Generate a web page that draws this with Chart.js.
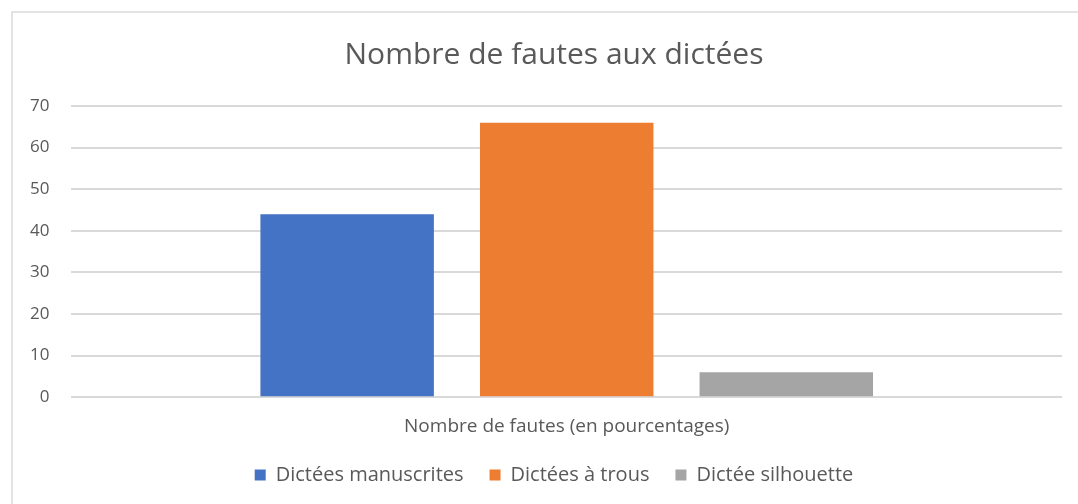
<!DOCTYPE html>
<html>
<head>
<meta charset="utf-8">
<script src="https://cdn.jsdelivr.net/npm/chart.js@4/dist/chart.umd.min.js"></script>
<style>
  html, body { margin: 0; padding: 0; background: #fff; }
  #wrap { position: absolute; left: 0; top: 0; width: 1078px; height: 504px; }
  #frame { position: absolute; left: 11px; top: 11px; width: 1080px; height: 500px;
           border-top: 2px solid #e3e3e3; border-left: 2px solid #e3e3e3; pointer-events: none; }
</style>
</head>
<body>
<div id="wrap"><canvas id="chart" width="1078" height="504"></canvas></div>
<div id="frame"></div>
<script>
// catégorie unique et séries
const categories = ['Nombre de fautes (en pourcentages)'];
const seriesNames = ['Dictées manuscrites', 'Dictées à trous', 'Dictée silhouette'];
const manuscrites = [44];
const aTrous = [66];
const silhouette = [6];
const yTicks = [0, 10, 20, 30, 40, 50, 60, 70];

const colors = ['#4472c4', '#ed7d31', '#a5a5a5'];
const textColor = '#595959';
const fontFamily = '"Open Sans", "Liberation Sans", sans-serif';

// légende un peu moins haute que le calcul par défaut,
// titre et légende centrés un peu à droite comme dans Excel
const blockTweaks = {
  id: 'blockTweaks',
  beforeInit(chart) {
    const fit = chart.legend.fit;
    chart.legend.fit = function () {
      fit.call(this);
      this.height -= 13;
    };
  },
  afterLayout(chart) {
    const shift = 19;
    [chart.titleBlock, chart.legend].forEach(b => {
      if (!b) return;
      b.left += shift;
      b.right += shift;
    });
  }
};

const ctx = document.getElementById('chart').getContext('2d');
new Chart(ctx, {
  type: 'bar',
  data: {
    labels: categories,
    datasets: [manuscrites, aTrous, silhouette].map((values, i) => ({
      label: seriesNames[i],
      data: values,
      backgroundColor: colors[i],
      borderWidth: 0,
      categoryPercentage: 0.665,
      barPercentage: 0.79
    }))
  },
  options: {
    responsive: false,
    animation: false,
    layout: { padding: { left: 8, right: 16, top: 20, bottom: 22 } },
    plugins: {
      title: {
        display: true,
        text: 'Nombre de fautes aux dictées',
        color: textColor,
        font: { family: fontFamily, size: 30, weight: 'normal' },
        padding: { top: 17, bottom: 33 }
      },
      legend: {
        position: 'bottom',
        labels: {
          color: textColor,
          font: { family: fontFamily, size: 20 },
          boxWidth: 11,
          boxHeight: 11,
          padding: 26
        }
      },
      tooltip: { enabled: false }
    },
    scales: {
      x: {
        grid: { display: false },
        border: { display: false },
        ticks: { color: textColor, font: { family: fontFamily, size: 19 }, padding: 10 },
        afterFit: (scale) => { scale.height -= 9; }
      },
      y: {
        min: 0,
        max: 70,
        afterBuildTicks: (axis) => { axis.ticks = yTicks.map(v => ({ value: v })); },
        grid: { color: '#d9d9d9', lineWidth: 2, drawTicks: false },
        border: { display: false },
        ticks: { color: textColor, font: { family: fontFamily, size: 17 }, padding: 22 }
      }
    }
  },
  plugins: [blockTweaks]
});
</script>
</body>
</html>
